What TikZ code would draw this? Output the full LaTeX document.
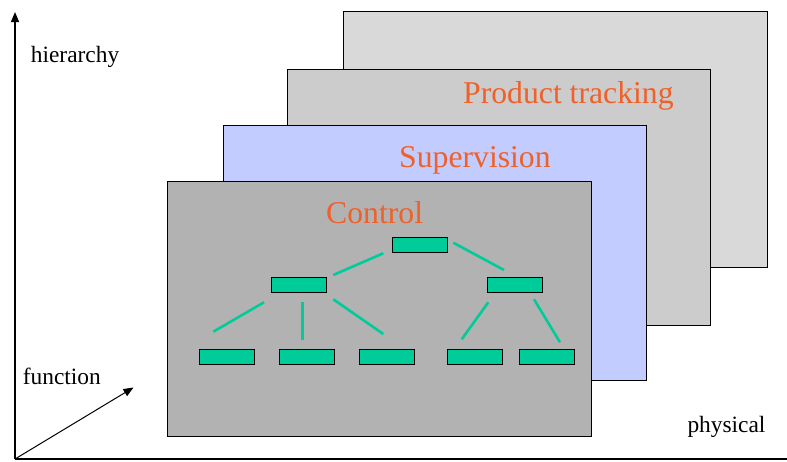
\documentclass[tikz,border=0pt]{standalone}
\usepackage{fontspec}
\setmainfont{Liberation Serif}
\usetikzlibrary{arrows.meta}
\definecolor{layerA}{RGB}{217,217,217}
\definecolor{layerB}{RGB}{204,204,204}
\definecolor{layerC}{RGB}{194,204,255}
\definecolor{layerD}{RGB}{178,178,178}
\definecolor{boxgreen}{RGB}{0,204,153}
\definecolor{titleorange}{RGB}{240,96,40}
\tikzset{
  layer/.style={draw=black, line width=1pt},
  unit/.style={draw=black, line width=1pt, fill=boxgreen, minimum width=55pt, minimum height=15pt, inner sep=0pt, outer sep=0pt},
  link/.style={draw=boxgreen, line width=2.6pt},
  layertitle/.style={text=titleorange, font=\fontsize{31.7}{36}\selectfont, anchor=base west, inner sep=0pt},
  axislabel/.style={text=black, font=\fontsize{23.4}{27}\selectfont, anchor=base west, inner sep=0pt},
  axis/.style={draw=black, line width=1.4pt},
  axisarrow/.style={axis, -{Triangle[length=10pt,width=8pt]}}
}
\begin{document}
\begin{tikzpicture}[x=1pt,y=-1pt]
\useasboundingbox (0,0) rectangle (787,461);
% layers
\draw[layer, fill=layerA] (343,11) rectangle (767,267);
\draw[layer, fill=layerB] (287,69) rectangle (710,325);
\draw[layer, fill=layerC] (223,125) rectangle (646,380);
\draw[layer, fill=layerD] (167,181) rectangle (591,436);
% titles
\node[layertitle] (tPT) at (463,103.5) {Product tracking};
\node[layertitle] (tSV) at (399,167.5) {Supervision};
\node[layertitle] (tCT) at (326,223.3) {Control};
% boxes
\node[unit] (top) at (419.5,244.8) {};
\node[unit] (ml) at (298.8,284.8) {};
\node[unit] (mr) at (515.2,284.8) {};
\node[unit] (b1) at (226.8,356.8) {};
\node[unit] (b2) at (306.8,356.8) {};
\node[unit] (b3) at (386.8,356.8) {};
\node[unit] (b4) at (474.8,356.8) {};
\node[unit] (b5) at (546.8,356.8) {};
% connector ends
\coordinate (topL) at (383.3,253.3);
\coordinate (mlT) at (333.3,275);
\coordinate (topR) at (453.3,242.7);
\coordinate (mrT) at (504,270);
\coordinate (mlB1) at (264,302.3);
\coordinate (b1T) at (213.3,331.7);
\coordinate (mlB2) at (302.3,302.3);
\coordinate (b2T) at (302.3,339.7);
\coordinate (mlB3) at (333.3,299.3);
\coordinate (b3T) at (383.3,334);
\coordinate (mrB4) at (488.3,302.3);
\coordinate (b4T) at (461.7,339.3);
\coordinate (mrB5) at (534,299.3);
\coordinate (b5T) at (560,342.3);
\draw[link] (topL) -- (mlT);
\draw[link] (topR) -- (mrT);
\draw[link] (mlB1) -- (b1T);
\draw[link] (mlB2) -- (b2T);
\draw[link] (mlB3) -- (b3T);
\draw[link] (mrB4) -- (b4T);
\draw[link] (mrB5) -- (b5T);
% axes
\coordinate (origin) at (15,459);
\coordinate (yend) at (15,12);
\coordinate (xend) at (787,459);
\coordinate (zend) at (133.5,387.5);
\draw[axisarrow] (origin) -- (yend);
\draw[axis] (origin) -- (xend);
\draw[axis, line width=1pt, -{Triangle[length=10pt,width=8pt]}] (origin) -- (zend);
% axis labels
\node[axislabel] (lH) at (30.7,62.5) {hierarchy};
\node[axislabel] (lF) at (22.7,384) {function};
\node[axislabel] (lP) at (687.3,432.5) {physical};
\end{tikzpicture}
\end{document}
